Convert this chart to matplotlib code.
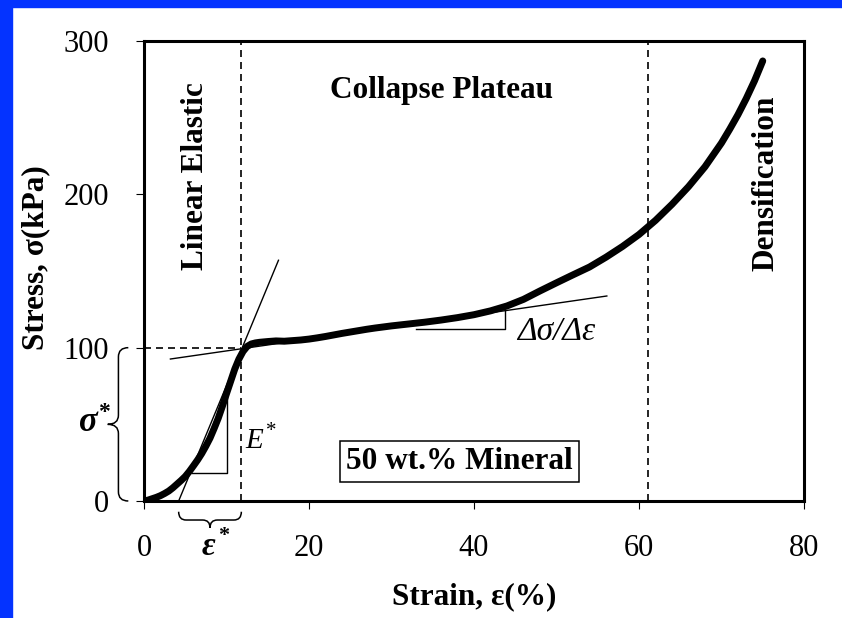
import matplotlib
matplotlib.use("Agg")
import matplotlib.pyplot as plt
from matplotlib.patches import Rectangle, PathPatch
from matplotlib.path import Path

plt.rcParams['font.family'] = ['Liberation Serif', 'DejaVu Serif']

# Stress-strain curve
strain = [0, 0.5, 1, 1.5, 2, 2.5, 3, 3.5, 4, 4.5, 5, 5.5, 6, 6.5, 7, 7.5, 8, 8.5, 9,
          9.5, 10, 10.5, 11, 11.5, 12, 12.5, 13, 13.5, 14, 15, 16, 17, 18, 19, 20, 21,
          22, 23, 24, 25, 26, 27, 28, 30, 32, 34, 36, 38, 40, 42, 44, 46, 48, 50, 52,
          54, 56, 58, 60, 62, 64, 66, 68, 70, 71, 72, 73, 74, 75]
stress = [0, 0.6, 1.5, 2.4, 3.5, 4.9, 6.5, 8.6, 11, 13.4, 16, 19.3, 23, 26.8, 31, 35.8,
          41, 47.3, 54, 61.8, 70, 78, 86, 92.5, 97.5, 100.8, 102.4, 103.1, 103.5, 104,
          104.4, 104.2, 104.6, 105, 105.6, 106.4, 107.3, 108.3, 109.3, 110.2, 111.1, 112,
          112.8, 114.2, 115.4, 116.6, 118, 119.6, 121.5, 124, 127.2, 131.5, 137, 142.3,
          147.5, 152.6, 159, 166, 173.8, 183, 193.5, 205, 218, 233.5, 242.5, 252, 262.5,
          274, 287]

# Region boundaries and construction lines
yield_strain = 11.8
yield_stress = 100
densif_strain = 61.1
elastic_line_x = [4.2, 16.3]
elastic_line_y = [0, 157]
plateau_line_x = [3.2, 56.1]
plateau_line_y = [92.6, 133.7]
e_tri_x = [5.8, 10.1, 10.1]
e_tri_y = [18, 18, 69]
p_tri_x = [33.0, 43.8, 43.8]
p_tri_y = [112, 112, 124.6]

fig = plt.figure(figsize=(8.42, 6.18), dpi=100)
ax = fig.add_axes([144 / 842, 1 - 501 / 618, 660 / 842, 460 / 618])

# blue frame strips
fig.patches.append(Rectangle((0, 0), 12 / 842, 1, transform=fig.transFigure,
                             color='#0433FF', zorder=0))
fig.patches.append(Rectangle((0, 1 - 7 / 618), 1, 7 / 618, transform=fig.transFigure,
                             color='#0433FF', zorder=0))

dash = (0, (4.2, 3))
ax.plot(strain, stress, color='black', lw=5, solid_capstyle='round',
        solid_joinstyle='round', zorder=3)
ax.plot([0, yield_strain], [yield_stress, yield_stress], color='black', lw=1.2, ls=dash)
ax.axvline(yield_strain, color='black', lw=1.2, ls=dash)
ax.axvline(densif_strain, color='black', lw=1.2, ls=dash)
ax.plot(elastic_line_x, elastic_line_y, color='black', lw=1.0)
ax.plot(plateau_line_x, plateau_line_y, color='black', lw=1.0)
ax.plot(e_tri_x, e_tri_y, color='black', lw=1.0)
ax.plot(p_tri_x, p_tri_y, color='black', lw=1.0)


def vbrace(ax, y0, y1, xe, xb, xt, r):
    ym = (y0 + y1) / 2
    verts = [(xe, y1), (xb, y1), (xb, y1 - r), (xb, ym + r), (xb, ym), (xt, ym),
             (xb, ym), (xb, ym - r), (xb, y0 + r), (xb, y0), (xe, y0)]
    codes = [Path.MOVETO, Path.CURVE3, Path.CURVE3, Path.LINETO, Path.CURVE3, Path.CURVE3,
             Path.CURVE3, Path.CURVE3, Path.LINETO, Path.CURVE3, Path.CURVE3]
    ax.add_patch(PathPatch(Path(verts, codes), fill=False, lw=1.1, clip_on=False))


def hbrace(ax, x0, x1, ye, yb, yt, r):
    xm = (x0 + x1) / 2
    verts = [(x0, ye), (x0, yb), (x0 + r, yb), (xm - r, yb), (xm, yb), (xm, yt),
             (xm, yb), (xm + r, yb), (x1 - r, yb), (x1, yb), (x1, ye)]
    codes = [Path.MOVETO, Path.CURVE3, Path.CURVE3, Path.LINETO, Path.CURVE3, Path.CURVE3,
             Path.CURVE3, Path.CURVE3, Path.LINETO, Path.CURVE3, Path.CURVE3]
    ax.add_patch(PathPatch(Path(verts, codes), fill=False, lw=1.1, clip_on=False))


vbrace(ax, 0, yield_stress, -1.9, -3.1, -4.4, 6)
hbrace(ax, elastic_line_x[0], yield_strain, -7, -12.4, -17.5, 0.9)

# symbols with small raised asterisks
ax.text(-6.8, 51, 'σ', fontsize=25, fontweight='bold', style='italic',
        ha='center', va='center', clip_on=False)
ax.text(-4.8, 58, '*', fontsize=17, fontweight='bold', ha='center', va='center',
        clip_on=False)
ax.text(7.8, -29.4, 'ε', fontsize=24, fontweight='bold', style='italic',
        ha='center', va='center', clip_on=False)
ax.text(9.6, -23, '*', fontsize=16, fontweight='bold', ha='center', va='center',
        clip_on=False)
ax.text(13.4, 39, 'E', fontsize=21, style='italic', ha='center', va='center')
ax.text(15.4, 45, '*', fontsize=15, ha='center', va='center')
ax.text(50.0, 110.5, 'Δσ/Δε', fontsize=24, style='italic', ha='center', va='center')

ax.text(6.2, 212, 'Linear Elastic', fontsize=22.5, fontweight='bold', rotation=90,
        ha='center', va='center')
ax.text(36.1, 268, 'Collapse Plateau', fontsize=22.5, fontweight='bold',
        ha='center', va='center')
ax.text(75.45, 207, 'Densification', fontsize=22.5, fontweight='bold', rotation=90,
        ha='center', va='center')
ax.text(38.2, 25.8, '50 wt.% Mineral', fontsize=22.5, fontweight='bold', ha='center',
        va='center', bbox=dict(boxstyle='square,pad=0.2', fc='white', ec='black', lw=1.1))

ax.set_xlim(0, 80)
ax.set_ylim(0, 300)
ax.set_xticks([0, 20, 40, 60, 80])
ax.set_yticks([0, 100, 200, 300])
for s in ax.spines.values():
    s.set_linewidth(2.2)
ax.tick_params(axis='x', direction='out', length=6, width=0.8, labelsize=22, pad=18)
ax.tick_params(axis='y', direction='out', length=6, width=0.8, labelsize=22, pad=19)

ax.set_xlabel('Strain, ε(%)', fontsize=22.5, fontweight='bold')
ax.set_ylabel('Stress, σ(kPa)', fontsize=22.5, fontweight='bold')
ax.xaxis.set_label_coords(0.5, -0.176)
ax.yaxis.set_label_coords(-0.142, 0.528)

fig.savefig('out.png', dpi=100)
